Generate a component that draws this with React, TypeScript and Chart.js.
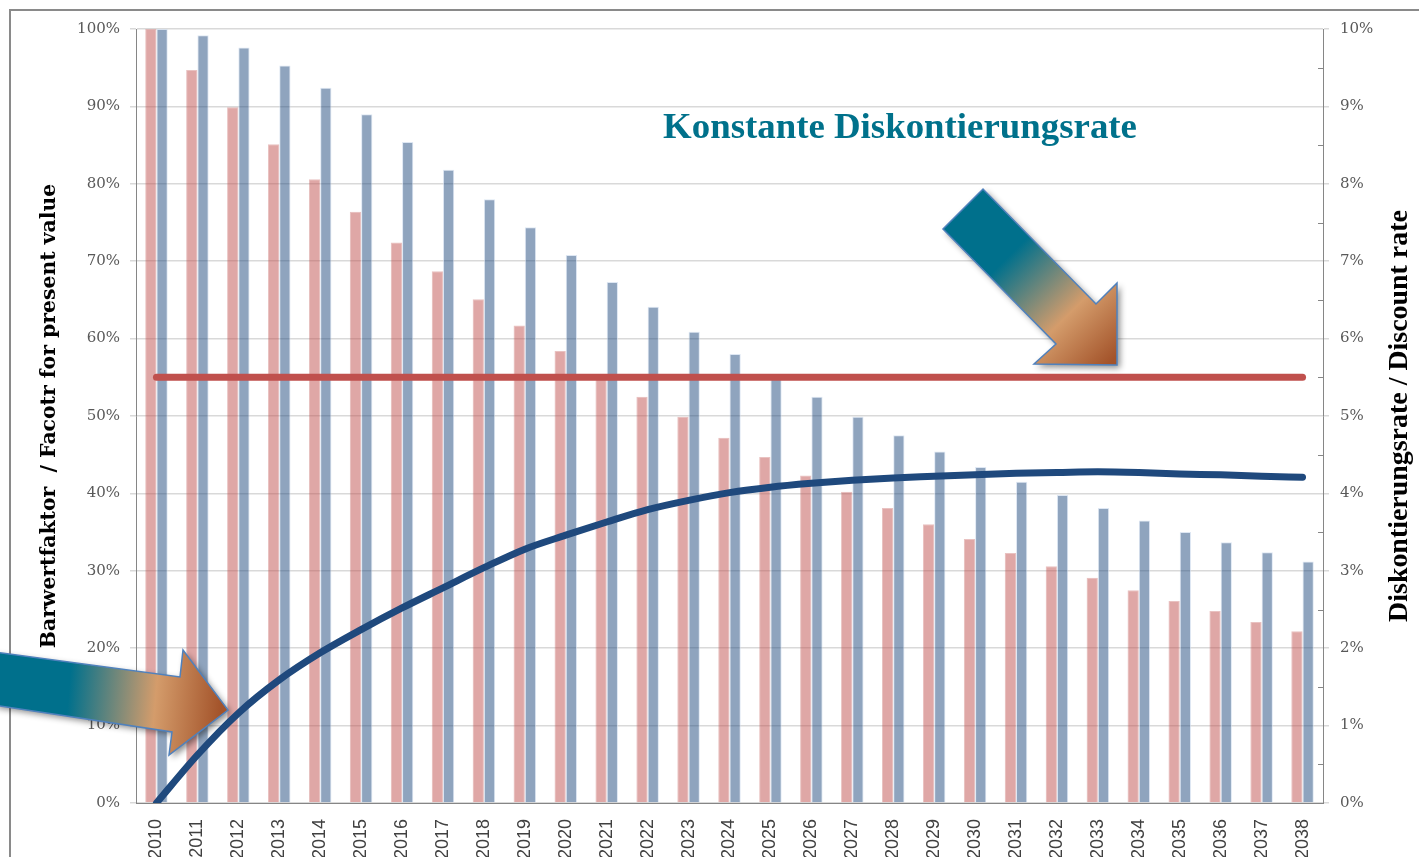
import React, { useEffect, useRef } from "react";
import { Chart, registerables } from "chart.js";

Chart.register(...registerables);

const years: string[] = [
  "2010", "2011", "2012", "2013", "2014", "2015", "2016", "2017", "2018", "2019",
  "2020", "2021", "2022", "2023", "2024", "2025", "2026", "2027", "2028", "2029",
  "2030", "2031", "2032", "2033", "2034", "2035", "2036", "2037", "2038",
];

// Barwertfaktor bei konstanter Diskontierungsrate (linke Achse, %)
const constantFactor: number[] = [
  100, 94.7, 89.9, 85.1, 80.6, 76.4, 72.4, 68.7, 65.1, 61.7,
  58.4, 55.4, 52.5, 49.9, 47.2, 44.7, 42.3, 40.2, 38.1, 36.0,
  34.1, 32.3, 30.6, 29.1, 27.5, 26.1, 24.8, 23.4, 22.2,
];

// Barwertfaktor bei variabler Diskontierungsrate (linke Achse, %)
const variableFactor: number[] = [
  100, 99.2, 97.6, 95.3, 92.4, 89.0, 85.4, 81.8, 78.0, 74.4,
  70.8, 67.3, 64.1, 60.9, 58.0, 55.0, 52.5, 49.9, 47.5, 45.4,
  43.4, 41.5, 39.8, 38.1, 36.5, 35.0, 33.7, 32.4, 31.2,
];

// Konstante Diskontierungsrate (rechte Achse, %)
const constantRate: number[] = [
  5.5, 5.5, 5.5, 5.5, 5.5, 5.5, 5.5, 5.5, 5.5, 5.5,
  5.5, 5.5, 5.5, 5.5, 5.5, 5.5, 5.5, 5.5, 5.5, 5.5,
  5.5, 5.5, 5.5, 5.5, 5.5, 5.5, 5.5, 5.5, 5.5,
];

// Variable Diskontierungsrate (rechte Achse, %)
const variableRate: number[] = [
  0, 0.62, 1.16, 1.59, 1.94, 2.24, 2.52, 2.78, 3.04, 3.28,
  3.46, 3.63, 3.79, 3.91, 4.01, 4.08, 4.13, 4.17, 4.2, 4.22,
  4.24, 4.26, 4.27, 4.28, 4.27, 4.25, 4.24, 4.22, 4.21,
];

const leftTicksMax = 100;
const rightTicksMax = 10;

const chartTitle = "Konstante Diskontierungsrate";
const leftAxisTitle = "Barwertfaktor  / Facotr for present value";
const rightAxisTitle = "Diskontierungsrate / Discount rate";

const W = 1419;
const H = 857;

function drawArrow(
  ctx: CanvasRenderingContext2D,
  pts: number[][],
  g0: number[],
  g1: number[]
) {
  const grad = ctx.createLinearGradient(g0[0], g0[1], g1[0], g1[1]);
  grad.addColorStop(0, "#00708c");
  grad.addColorStop(0.3, "#00708c");
  grad.addColorStop(0.68, "#d49c6b");
  grad.addColorStop(0.97, "#a3532a");
  grad.addColorStop(1, "#a3532a");
  ctx.save();
  ctx.beginPath();
  ctx.moveTo(pts[0][0], pts[0][1]);
  for (let i = 1; i < pts.length; i++) ctx.lineTo(pts[i][0], pts[i][1]);
  ctx.closePath();
  ctx.shadowColor = "rgba(0,0,0,0.45)";
  ctx.shadowBlur = 6;
  ctx.shadowOffsetX = 3;
  ctx.shadowOffsetY = 3;
  ctx.fillStyle = grad;
  ctx.fill();
  ctx.shadowColor = "transparent";
  ctx.lineWidth = 1.5;
  ctx.strokeStyle = "#4f81bd";
  ctx.lineJoin = "miter";
  ctx.stroke();
  ctx.restore();
}

function drawFittedVertical(
  ctx: CanvasRenderingContext2D,
  text: string,
  family: string,
  cx: number,
  cy: number,
  length: number
) {
  ctx.save();
  ctx.font = `bold 20px ${family}`;
  const w = ctx.measureText(text).width;
  const size = (20 * length) / w;
  ctx.font = `bold ${size}px ${family}`;
  ctx.translate(cx, cy);
  ctx.rotate(-Math.PI / 2);
  ctx.textAlign = "center";
  ctx.textBaseline = "middle";
  ctx.fillStyle = "#000000";
  ctx.fillText(text, 0, 0);
  ctx.restore();
}

const makeDecorPlugin = () => {
  let arrowsDrawn = false;
  return {
    id: "decor",
    beforeDraw(chart: any) {
      const ctx: CanvasRenderingContext2D = chart.ctx;
      ctx.save();
      ctx.fillStyle = "#ffffff";
      ctx.fillRect(0, 0, chart.width, chart.height);
      ctx.strokeStyle = "#8a8a8a";
      ctx.lineWidth = 2;
      ctx.strokeRect(10, 10, chart.width + 40, chart.height + 40);
      ctx.restore();
    },
    beforeDatasetsDraw() {
      arrowsDrawn = false;
    },
    beforeDatasetDraw(chart: any, args: any) {
      if (arrowsDrawn || args.meta.type !== "line") return;
      arrowsDrawn = true;
      const ctx: CanvasRenderingContext2D = chart.ctx;
      drawArrow(
        ctx,
        [
          [-6, 652],
          [180, 677],
          [183, 650],
          [228, 710],
          [169, 755],
          [172, 732],
          [-6, 705],
        ],
        [0, 690],
        [228, 710]
      );
      drawArrow(
        ctx,
        [
          [943, 229],
          [983, 189],
          [1096, 304],
          [1117, 283],
          [1117, 365],
          [1034, 364],
          [1056, 344],
        ],
        [963, 209],
        [1117, 365]
      );
    },
    afterDraw(chart: any) {
      const ctx: CanvasRenderingContext2D = chart.ctx;
      const ca = chart.chartArea;
      const yR = chart.scales.yRight;
      // minor ticks on the right axis (inside)
      ctx.save();
      ctx.strokeStyle = "#868686";
      ctx.lineWidth = 1;
      for (let v = 0.5; v < rightTicksMax; v += 1) {
        const y = Math.round(yR.getPixelForValue(v)) + 0.5;
        ctx.beginPath();
        ctx.moveTo(ca.right - 5, y);
        ctx.lineTo(ca.right, y);
        ctx.stroke();
      }
      ctx.restore();

      // title
      ctx.save();
      ctx.font = 'bold 36px "Liberation Serif", "Times New Roman", serif';
      const tw = ctx.measureText(chartTitle).width;
      const ts = (36 * 474) / tw;
      ctx.font = `bold ${ts}px "Liberation Serif", "Times New Roman", serif`;
      ctx.fillStyle = "#00718b";
      ctx.textAlign = "center";
      ctx.textBaseline = "alphabetic";
      ctx.fillText(chartTitle, 900, 138);
      ctx.restore();

      drawFittedVertical(ctx, leftAxisTitle, '"DejaVu Serif", serif', 50, 416, 465);
      drawFittedVertical(ctx, rightAxisTitle, '"Liberation Serif", serif', 1400, 416, 412);
    },
  };
};

export default function App() {
  const canvasRef = useRef<HTMLCanvasElement | null>(null);

  useEffect(() => {
    const canvas = canvasRef.current;
    if (!canvas) return;
    const tickFontY = { family: '"DejaVu Serif", serif', size: 15 };
    const chart = new Chart(canvas, {
      type: "bar",
      data: {
        labels: years,
        datasets: [
          {
            type: "bar",
            label: "Barwertfaktor konstant",
            data: constantFactor,
            yAxisID: "y",
            backgroundColor: "rgba(192,80,77,0.5)",
            borderColor: "rgba(192,80,77,0.35)",
            borderWidth: 1,
            categoryPercentage: 0.55,
            barPercentage: 1,
            order: 1,
          },
          {
            type: "bar",
            label: "Barwertfaktor variabel",
            data: variableFactor,
            yAxisID: "y",
            backgroundColor: "rgba(31,73,125,0.5)",
            borderColor: "rgba(200,215,235,0.6)",
            borderWidth: 1,
            categoryPercentage: 0.55,
            barPercentage: 1,
            order: 2,
          },
          {
            type: "line",
            label: "Konstante Diskontierungsrate",
            data: constantRate,
            yAxisID: "yRight",
            borderColor: "#c0504d",
            borderWidth: 7,
            borderCapStyle: "round",
            pointRadius: 0,
            fill: false,
            order: 0,
          } as any,
          {
            type: "line",
            label: "Variable Diskontierungsrate",
            data: variableRate,
            yAxisID: "yRight",
            borderColor: "#1f497d",
            borderWidth: 7,
            borderCapStyle: "round",
            cubicInterpolationMode: "monotone",
            pointRadius: 0,
            fill: false,
            order: 0,
          } as any,
        ],
      },
      options: {
        responsive: false,
        animation: false,
        devicePixelRatio: 1,
        layout: { padding: { top: 29, left: 0, right: 0, bottom: 0 } },
        plugins: {
          legend: { display: false },
          title: { display: false },
          tooltip: { enabled: false },
        },
        scales: {
          x: {
            offset: true,
            grid: { display: false },
            border: { display: true, color: "#868686", width: 1 },
            ticks: {
              minRotation: 90,
              maxRotation: 90,
              autoSkip: false,
              padding: 8,
              color: "#404040",
              font: { family: '"Liberation Sans Narrow", "Liberation Sans", sans-serif', size: 18 },
            },
            afterFit: (s: any) => {
              s.height = 54;
            },
          },
          y: {
            position: "left",
            min: 0,
            max: leftTicksMax,
            grid: {
              color: "#d9d9d9",
              lineWidth: 1.5,
              drawTicks: true,
              tickLength: 6,
            },
            border: { display: true, color: "#868686", width: 1 },
            ticks: {
              stepSize: 10,
              padding: 10,
              color: "#595959",
              font: tickFontY,
              callback: (v: any) => `${v}%`,
            },
            afterFit: (s: any) => {
              s.width = 136;
            },
          },
          yRight: {
            position: "right",
            min: 0,
            max: rightTicksMax,
            grid: {
              drawOnChartArea: false,
              color: "#d9d9d9",
              lineWidth: 1.5,
              drawTicks: true,
              tickLength: 6,
            },
            border: { display: true, color: "#868686", width: 1 },
            ticks: {
              stepSize: 1,
              padding: 11,
              color: "#595959",
              font: tickFontY,
              callback: (v: any) => `${v}%`,
            },
            afterFit: (s: any) => {
              s.width = W - 1323;
            },
          },
        },
      },
      plugins: [makeDecorPlugin()],
    } as any);
    return () => {
      chart.destroy();
    };
  }, []);

  return (
    <div
      style={{
        position: "fixed",
        left: 0,
        top: 0,
        width: W,
        height: H,
        overflow: "hidden",
        background: "#ffffff",
      }}
    >
      <canvas ref={canvasRef} width={W} height={H} style={{ width: W, height: H, display: "block" }} />
    </div>
  );
}
